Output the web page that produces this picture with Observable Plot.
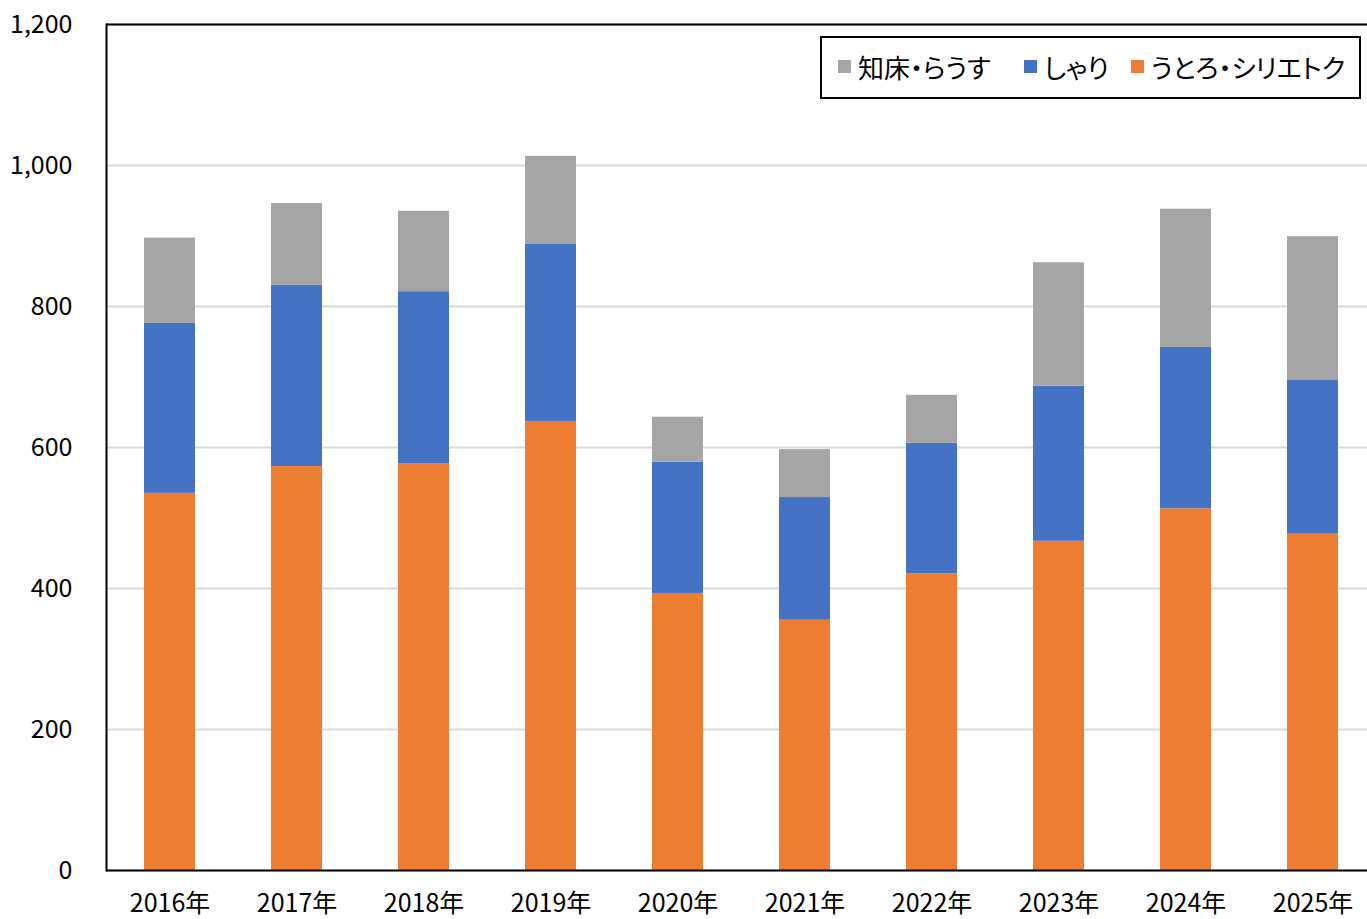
<!DOCTYPE html>
<html><head><meta charset="utf-8">
<script src="https://cdn.jsdelivr.net/npm/d3@7"></script>
<script src="https://cdn.jsdelivr.net/npm/@observablehq/plot@0.6"></script>
<style>
html,body{margin:0;padding:0;background:#fff;overflow:hidden}
#wrap{position:relative;width:1367px;height:919px;overflow:hidden;font-family:"Noto Sans CJK JP","Noto Sans",sans-serif}
#wrap svg{max-width:none !important;width:1376px;height:919px}
.legend{position:absolute;left:820px;top:36px;width:541px;height:63px;border:2px solid #000;box-sizing:border-box;background:#fff}
.item{position:absolute;top:0;height:57px;display:flex;align-items:center;font-size:26px;color:#000;white-space:nowrap;font-feature-settings:"palt"}
.sw{width:13px;height:13px;margin-right:7px;display:inline-block}
</style></head>
<body><div id="wrap"></div>
<script>
const years = ["2016年","2017年","2018年","2019年","2020年","2021年","2022年","2023年","2024年","2025年"];
const seriesNames = ["うとろ・シリエトク","しゃり","知床・らうす"];
const utoro = [535,573,577,637,393,355,421,467,513,478];
const shari = [241,257,244,251,186,174,185,220,229,217];
const rausu = [121,116,114,125,64,68,68,175,196,204];
const colors = ["#ed7d31","#4472c4","#a5a5a5"];
const yTicks = [0,200,400,600,800,1000,1200];

const seriesValues = [utoro, shari, rausu];
const rows = [];
years.forEach((y,i)=>seriesNames.forEach((s,j)=>rows.push({year:y, series:s, value:seriesValues[j][i]})));

const chart = Plot.plot({
  width:1376, height:919,
  marginLeft:106, marginRight:0, marginTop:24, marginBottom:49,
  style:{fontFamily:'"Noto Sans CJK JP","Noto Sans",sans-serif', fontSize:"25px", color:"#000", background:"#fff", maxWidth:"none"},
  x:{domain:years, paddingInner:0.6, paddingOuter:0.3, label:null, tickSize:0, tickPadding:24},
  y:{domain:[0,1200], ticks:yTicks, tickFormat:d3.format(","), label:null, tickSize:0, tickPadding:34},
  color:{domain:seriesNames, range:colors},
  marks:[
    Plot.gridY(yTicks, {stroke:"#d9d9d9", strokeOpacity:1, strokeWidth:2}),
    Plot.barY(rows, {x:"year", y:"value", fill:"series", order:seriesNames}),
    Plot.frame({anchor:"left", stroke:"#000", strokeWidth:2}),
    Plot.ruleY([1200], {stroke:"#000", strokeWidth:2}),
    Plot.ruleY([0], {stroke:"#000", strokeWidth:2})
  ]
});
const wrap = document.getElementById("wrap");
wrap.appendChild(chart);

const legend = document.createElement("div");
legend.className = "legend";
const legendOrder = [2,1,0];
const lefts = [16, 202, 309];
legendOrder.forEach((j,k)=>{
  const it = document.createElement("div");
  it.className = "item";
  it.style.left = lefts[k] + "px";
  const sw = document.createElement("span");
  sw.className = "sw"; sw.style.background = colors[j];
  it.appendChild(sw);
  it.appendChild(document.createTextNode(seriesNames[j]));
  legend.appendChild(it);
});
wrap.appendChild(legend);
</script></body></html>
